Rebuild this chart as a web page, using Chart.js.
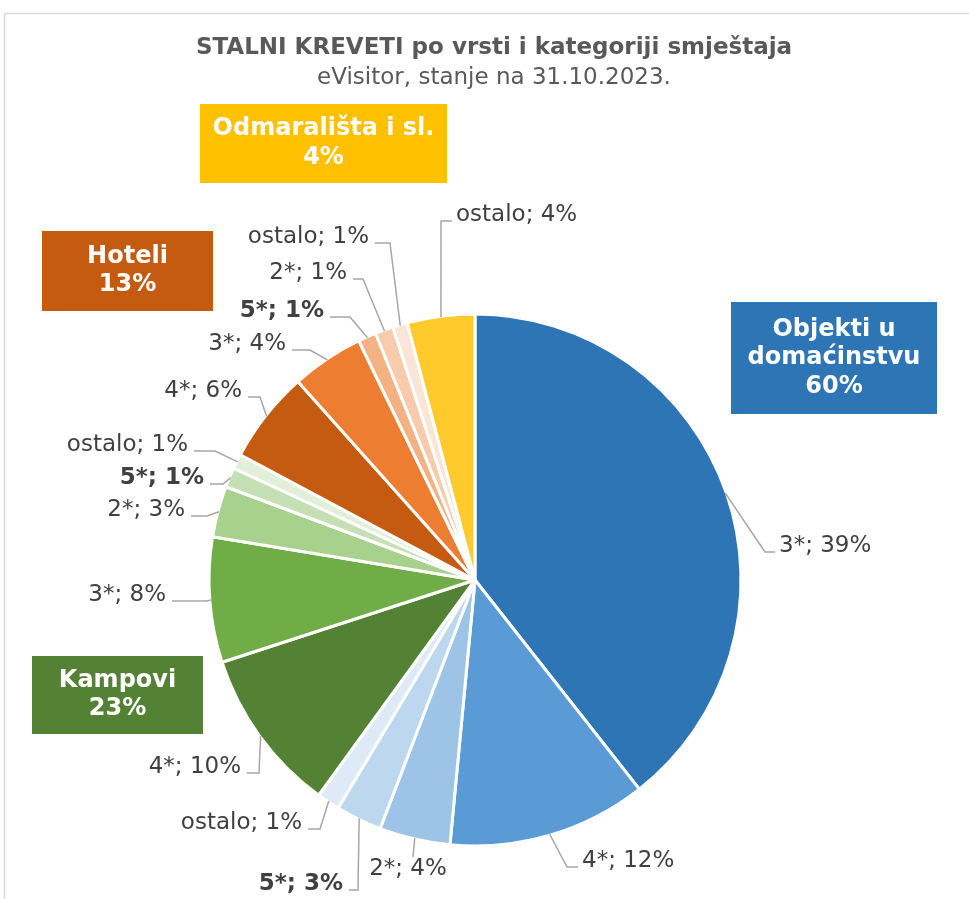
<!DOCTYPE html>
<html><head><meta charset="utf-8">
<script src="https://cdn.jsdelivr.net/npm/chart.js@4/dist/chart.umd.min.js"></script>
<style>html,body{margin:0;padding:0;background:#fff}canvas{display:block}</style>
</head><body>
<canvas id="c" width="969" height="899"></canvas>
<script>
// ---- data ----
const titleText = 'STALNI KREVETI po vrsti i kategoriji smještaja';
const subtitleText = 'eVisitor, stanje na 31.10.2023.';
const groupNames = ['Objekti u domaćinstvu', 'Kampovi', 'Hoteli', 'Odmarališta i sl.'];
const categories = ['3*', '4*', '2*', '5*', 'ostalo',
                    '4*', '3*', '2*', '5*', 'ostalo',
                    '4*', '3*', '5*', '2*', 'ostalo',
                    'ostalo'];
const groupIndex = [0, 0, 0, 0, 0, 1, 1, 1, 1, 1, 2, 2, 2, 2, 2, 3];
const shares = [39.4, 12.1, 4.3, 2.8, 1.4,
                10.0, 7.6, 3.1, 1.2, 0.9,
                5.6, 4.4, 1.1, 1.1, 0.9,
                4.1];

// ---- styles / layout ----
const sliceColors = ['#2E75B6', '#5B9BD5', '#9DC3E6', '#BDD7EE', '#DEEBF7',
                     '#548235', '#70AD47', '#A9D18E', '#C5E0B4', '#E2F0D9',
                     '#C55A11', '#ED7D31', '#F4B183', '#F8CBAD', '#FBE5D6',
                     '#FFCA2C'];
const groupColors = ['#2E75B6', '#548235', '#C55A11', '#FFC000'];
const groupBoxes = [[731, 302, 206, 112], [32, 656, 171, 78], [42, 231, 171, 80], [200, 104, 247, 79]];
// elbow (dx,dy) relative to pie centre, end of horizontal segment (dx) or null for vertical-only
const labelLayout = [
  [290, -28, 300], [92, 287, 103], [-62, 277, null], [-117, 310, -126], [-155, 249, -167],
  [-216, 193, -228], [-268, 21, -303], [-268, -64, -284], [-252, -96, -265], [-260, -129, -281],
  [-215, -183, -227], [-165, -230, -183], [-125, -263, -145], [-112, -301, -122], [-85, -337, -100],
  [-34, -359, -23]
];
const FONT = '"DejaVu Sans", Verdana, sans-serif';
const LABEL_SIZE = 23;
const TEXT_COLOR = '#404040';
const LINE_COLOR = '#A6A6A6';

const pct = v => Math.round(v) + '%';
const groupTotals = groupNames.map((_, g) => shares.reduce((s, v, i) => s + (groupIndex[i] === g ? v : 0), 0));

const framePlugin = {
  id: 'frame',
  beforeDraw(chart) {
    const c = chart.ctx;
    c.save();
    c.fillStyle = '#fff';
    c.fillRect(0, 0, chart.width, chart.height);
    c.strokeStyle = '#D9D9D9';
    c.lineWidth = 1.5;
    c.strokeRect(4.5, 13.5, chart.width + 20, chart.height + 20);
    c.fillStyle = '#595959';
    c.textAlign = 'center';
    c.textBaseline = 'middle';
    c.font = 'bold 23px ' + FONT;
    c.fillText(titleText, 494, 48);
    c.font = '23px ' + FONT;
    c.fillText(subtitleText, 494, 78);
    c.restore();
  }
};

const labelPlugin = {
  id: 'sliceLabels',
  afterDatasetsDraw(chart) {
    const c = chart.ctx;
    const arcs = chart.getDatasetMeta(0).data;
    c.save();
    arcs.forEach((arc, i) => {
      const {x, y, startAngle, endAngle, outerRadius} = arc.getProps(['x', 'y', 'startAngle', 'endAngle', 'outerRadius'], true);
      const s = outerRadius / 266;
      const mid = (startAngle + endAngle) / 2;
      const px = x + Math.cos(mid) * (outerRadius - 1);
      const py = y + Math.sin(mid) * (outerRadius - 1);
      const [ex, ey, hx] = labelLayout[i];
      const Ex = x + ex * s, Ey = y + ey * s;
      c.strokeStyle = LINE_COLOR;
      c.lineWidth = 1.5;
      c.beginPath();
      c.moveTo(px, py);
      c.lineTo(Ex, Ey);
      let tx, align, ty;
      if (hx === null) {
        tx = Ex - 5; ty = Ey + 12; align = 'center';
      } else {
        const Hx = x + hx * s;
        c.lineTo(Hx, Ey);
        if (Hx > Ex) { tx = Hx + 4; align = 'left'; } else { tx = Hx - 6; align = 'right'; }
        ty = Ey - 6;
      }
      c.stroke();
      const bold = categories[i] === '5*';
      c.font = (bold ? 'bold ' : '') + LABEL_SIZE + 'px ' + FONT;
      c.fillStyle = TEXT_COLOR;
      c.textAlign = align;
      c.textBaseline = 'middle';
      c.fillText(categories[i] + '; ' + pct(shares[i]), tx, ty);
    });

    // group boxes
    groupBoxes.forEach(([bx, by, bw, bh], g) => {
      c.fillStyle = groupColors[g];
      c.fillRect(bx, by, bw, bh);
      c.font = 'bold 24px ' + FONT;
      const words = groupNames[g].split(' ');
      const lines = [];
      let cur = '';
      words.forEach(w => {
        const t = cur ? cur + ' ' + w : w;
        if (c.measureText(t).width > bw - 12 && cur) { lines.push(cur); cur = w; } else cur = t;
      });
      lines.push(cur);
      lines.push(pct(groupTotals[g]));
      const lh = 28.5;
      const top = by + bh / 2 - (lines.length - 1) * lh / 2;
      c.fillStyle = '#fff';
      c.textAlign = 'center';
      c.textBaseline = 'middle';
      lines.forEach((l, k) => c.fillText(l, bx + bw / 2, top + k * lh));
    });
    c.restore();
  }
};

new Chart(document.getElementById('c'), {
  type: 'pie',
  data: {
    labels: categories,
    datasets: [{ data: shares, backgroundColor: sliceColors, borderColor: '#ffffff', borderWidth: 3 }]
  },
  options: {
    responsive: false,
    animation: false,
    radius: 266,
    layout: { padding: { left: 0, right: 19, top: 261, bottom: 0 } },
    plugins: { legend: { display: false }, tooltip: { enabled: false }, title: { display: false } }
  },
  plugins: [framePlugin, labelPlugin]
});
</script>
</body></html>
